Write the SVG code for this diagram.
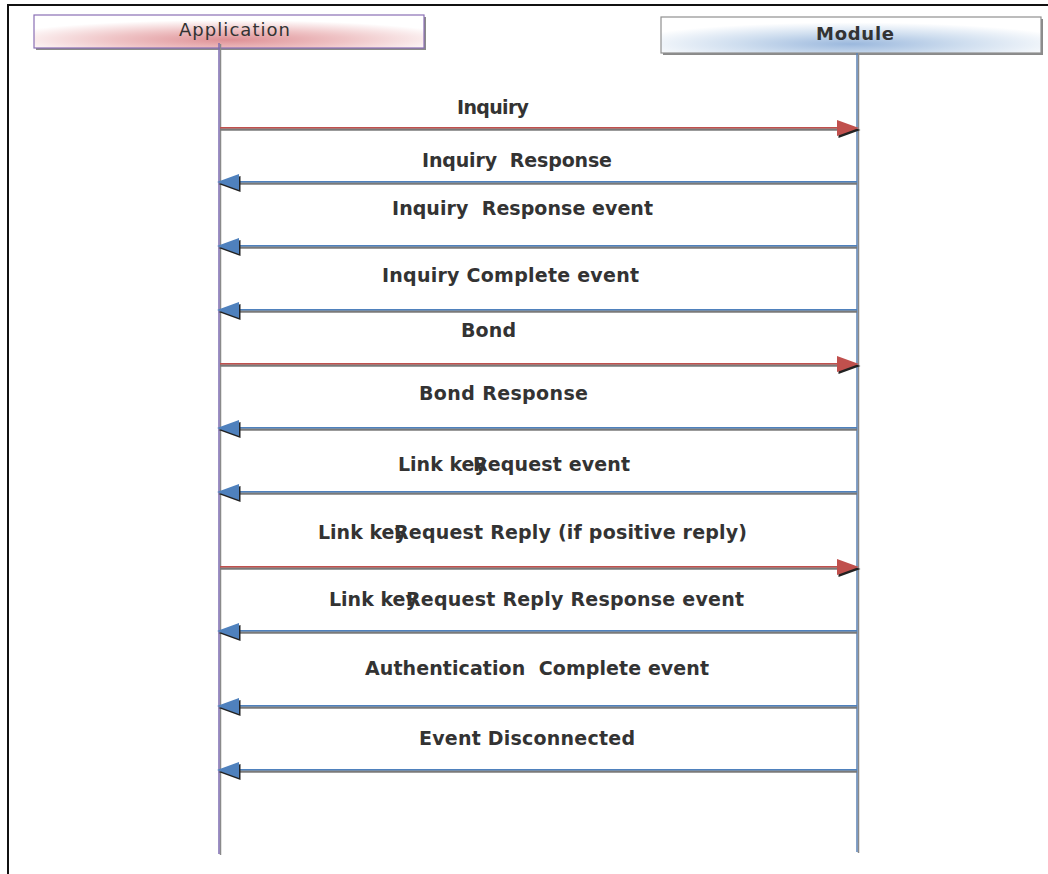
<svg xmlns="http://www.w3.org/2000/svg" xmlns:xlink="http://www.w3.org/1999/xlink" width="1048" height="874" viewBox="0 0 1048 874">
<style>
.lbl{font-family:"DejaVu Sans","Liberation Sans",sans-serif;font-size:19px;font-weight:bold;fill:#333333;white-space:pre}
.hdr{font-family:"DejaVu Sans","Liberation Sans",sans-serif;font-size:18px;fill:#333333}
.shadow{stroke:#7a7a7a;stroke-width:2.5;fill:none}
.red{stroke:#c0504d;stroke-width:1.5;fill:none}
.blue{stroke:#4f81bd;stroke-width:1.5;fill:none}
.hs{fill:#222222}
.hr{fill:#c0504d}
.hb{fill:#4f81bd}
</style>
<defs>
<radialGradient id="gApp" cx="0.5" cy="0.75" r="0.6">
<stop offset="0" stop-color="#de9095"/>
<stop offset="0.5" stop-color="#efc4c6"/>
<stop offset="1" stop-color="#ffffff"/>
</radialGradient>
<radialGradient id="gMod" cx="0.5" cy="0.75" r="0.6">
<stop offset="0" stop-color="#9bb8dd"/>
<stop offset="0.5" stop-color="#cfdeef"/>
<stop offset="1" stop-color="#ffffff"/>
</radialGradient>
<path id="headR" d="M0,0 L-22,-8 L-22,8 Z"/>
<path id="headL" d="M0,0 L22,-8 L22,8 Z"/>
</defs>
<rect width="1048" height="874" fill="#ffffff"/>
<g id="frame">
<path d="M8,874 L8,5 L1048,5" fill="none" stroke="#111111" stroke-width="2"/>
</g>
<g id="node-application">
<rect x="36" y="17" width="390" height="33" fill="#8a8a8a"/>
<rect x="34" y="15" width="390" height="33" fill="url(#gApp)" stroke="#8a6fb5" stroke-width="1.2"/>
<text class="hdr" x="179" y="36" textLength="111">Application</text>
<line x1="220.5" y1="44" x2="220.5" y2="855" stroke="#8a8a8a" stroke-width="1.5"/>
<line x1="219" y1="43" x2="219" y2="854" stroke="#7d6bb0" stroke-width="1.5"/>
</g>
<g id="node-module">
<rect x="663" y="19" width="380" height="36" fill="#8a8a8a"/>
<rect x="661" y="17" width="380" height="36" fill="url(#gMod)" stroke="#909090" stroke-width="1.2"/>
<text class="hdr" x="816" y="40" font-weight="bold" font-size="19" textLength="78">Module</text>
<line x1="858.5" y1="54" x2="858.5" y2="853" stroke="#8a8a8a" stroke-width="1.5"/>
<line x1="857" y1="53" x2="857" y2="852" stroke="#5b82b5" stroke-width="1.5"/>
</g>
<g id="connectors">
<g id="m1">
<line class="shadow" x1="220" y1="129.5" x2="850" y2="129.5"/>
<line class="red" x1="220" y1="127.8" x2="850" y2="127.8"/>
<use href="#headR" class="hs" x="860.5" y="130"/>
<use href="#headR" class="hr" x="859" y="128"/>
<text class="lbl" x="457" y="114" textLength="72">Inquiry</text>
</g>
<g id="m2">
<line class="shadow" x1="230" y1="183.5" x2="857" y2="183.5"/>
<line class="blue" x1="230" y1="181.8" x2="857" y2="181.8"/>
<use href="#headL" class="hs" x="218.5" y="184"/>
<use href="#headL" class="hb" x="217" y="182"/>
<text class="lbl" x="422" y="167" textLength="190">Inquiry  Response</text>
</g>
<g id="m3">
<line class="shadow" x1="230" y1="247.5" x2="857" y2="247.5"/>
<line class="blue" x1="230" y1="245.8" x2="857" y2="245.8"/>
<use href="#headL" class="hs" x="218.5" y="248"/>
<use href="#headL" class="hb" x="217" y="246"/>
<text class="lbl" x="392" y="215" textLength="261">Inquiry  Response event</text>
</g>
<g id="m4">
<line class="shadow" x1="230" y1="311.5" x2="857" y2="311.5"/>
<line class="blue" x1="230" y1="309.8" x2="857" y2="309.8"/>
<use href="#headL" class="hs" x="218.5" y="312"/>
<use href="#headL" class="hb" x="217" y="310"/>
<text class="lbl" x="382" y="282" textLength="257">Inquiry Complete event</text>
</g>
<g id="m5">
<line class="shadow" x1="220" y1="365.5" x2="850" y2="365.5"/>
<line class="red" x1="220" y1="363.8" x2="850" y2="363.8"/>
<use href="#headR" class="hs" x="860.5" y="366"/>
<use href="#headR" class="hr" x="859" y="364"/>
<text class="lbl" x="461" y="337" textLength="55">Bond</text>
</g>
<g id="m6">
<line class="shadow" x1="230" y1="429.5" x2="857" y2="429.5"/>
<line class="blue" x1="230" y1="427.8" x2="857" y2="427.8"/>
<use href="#headL" class="hs" x="218.5" y="430"/>
<use href="#headL" class="hb" x="217" y="428"/>
<text class="lbl" x="419" y="400" textLength="169">Bond Response</text>
</g>
<g id="m7">
<line class="shadow" x1="230" y1="493.5" x2="857" y2="493.5"/>
<line class="blue" x1="230" y1="491.8" x2="857" y2="491.8"/>
<use href="#headL" class="hs" x="218.5" y="494"/>
<use href="#headL" class="hb" x="217" y="492"/>
<text class="lbl" x="398" y="471">Link key</text>
<text class="lbl" x="473" y="471" textLength="157">Request event</text>
</g>
<g id="m8">
<line class="shadow" x1="220" y1="568.5" x2="850" y2="568.5"/>
<line class="red" x1="220" y1="566.8" x2="850" y2="566.8"/>
<use href="#headR" class="hs" x="860.5" y="569"/>
<use href="#headR" class="hr" x="859" y="567"/>
<text class="lbl" x="318" y="539">Link key</text>
<text class="lbl" x="394" y="539" textLength="353">Request Reply (if positive reply)</text>
</g>
<g id="m9">
<line class="shadow" x1="230" y1="632.5" x2="857" y2="632.5"/>
<line class="blue" x1="230" y1="630.8" x2="857" y2="630.8"/>
<use href="#headL" class="hs" x="218.5" y="633"/>
<use href="#headL" class="hb" x="217" y="631"/>
<text class="lbl" x="329" y="606">Link key</text>
<text class="lbl" x="406" y="606" textLength="338">Request Reply Response event</text>
</g>
<g id="m10">
<line class="shadow" x1="230" y1="707.5" x2="857" y2="707.5"/>
<line class="blue" x1="230" y1="705.8" x2="857" y2="705.8"/>
<use href="#headL" class="hs" x="218.5" y="708"/>
<use href="#headL" class="hb" x="217" y="706"/>
<text class="lbl" x="365" y="675" textLength="344">Authentication  Complete event</text>
</g>
<g id="m11">
<line class="shadow" x1="230" y1="771.5" x2="857" y2="771.5"/>
<line class="blue" x1="230" y1="769.8" x2="857" y2="769.8"/>
<use href="#headL" class="hs" x="218.5" y="772"/>
<use href="#headL" class="hb" x="217" y="770"/>
<text class="lbl" x="419" y="745" textLength="216">Event Disconnected</text>
</g>
</g>
</svg>
